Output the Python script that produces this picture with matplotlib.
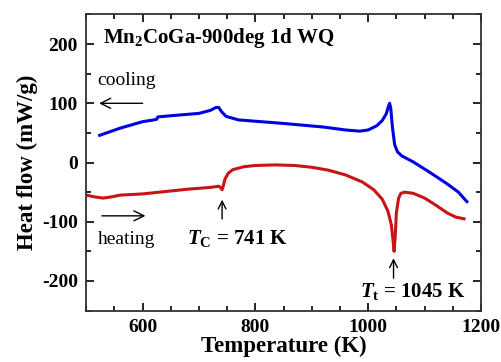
import numpy as np
import matplotlib
matplotlib.use("Agg")
import matplotlib.pyplot as plt
from matplotlib.ticker import MultipleLocator

plt.rcParams["font.family"] = ["Liberation Serif", "DejaVu Serif"]
plt.rcParams["axes.unicode_minus"] = False
plt.rcParams["mathtext.fontset"] = "custom"
plt.rcParams["mathtext.rm"] = "Liberation Serif:bold"
plt.rcParams["mathtext.it"] = "Liberation Serif:italic:bold"
plt.rcParams["mathtext.bf"] = "Liberation Serif:bold"

# cooling curve (blue)
cool_T = [524, 560, 600, 620, 625, 627, 650, 700, 720, 730, 735, 740, 748, 770, 850,
          920, 960, 985, 1000, 1015, 1025, 1032, 1036, 1038, 1040, 1043, 1047, 1052, 1060,
          1080, 1110, 1140, 1160, 1175]
cool_Q = [46, 58, 69, 72, 73, 77, 79, 83, 88, 93, 93, 86, 78, 72, 66,
          60, 55, 53, 55, 62, 71, 82, 95, 100, 92, 60, 30, 18, 11,
          1, -17, -36, -50, -66]

# heating curve (red)
heat_T = [500, 515, 530, 545, 560, 600, 640, 680, 720, 735, 738, 741, 743, 746, 752,
          760, 780, 800, 835, 870, 900, 930, 960, 990, 1010, 1025, 1035, 1041, 1044,
          1046, 1048, 1050, 1054, 1058, 1065, 1080, 1100, 1120, 1140, 1155, 1170]
heat_Q = [-55, -58, -60, -58, -55, -53, -49, -45, -42, -40, -42, -46, -40, -28, -18,
          -12, -7, -5, -4, -5, -8, -13, -21, -33, -46, -62, -82, -105, -130,
          -150, -125, -85, -60, -52, -50, -52, -60, -72, -85, -92, -95]

fig, ax = plt.subplots(figsize=(5.01, 3.62), dpi=100)
fig.subplots_adjust(left=0.172, right=0.96, top=0.96, bottom=0.142)

ax.plot(cool_T, cool_Q, color="#0000e0", lw=2.2)
ax.plot(heat_T, heat_Q, color="#c81414", lw=2.2)

ax.set_xlim(500, 1200)
ax.set_ylim(-250, 250)
ax.xaxis.set_major_locator(MultipleLocator(200))
ax.xaxis.set_minor_locator(MultipleLocator(50))
ax.yaxis.set_major_locator(MultipleLocator(100))
ax.yaxis.set_minor_locator(MultipleLocator(50))
ax.tick_params(which="both", direction="in", top=True, right=True, width=1.2)
ax.tick_params(which="major", length=6, labelsize=14, pad=6)
ax.tick_params(which="minor", length=3.5)
for lab in ax.get_xticklabels() + ax.get_yticklabels():
    lab.set_fontweight("bold")
for s in ax.spines.values():
    s.set_linewidth(1.3)
    s.set_color("#333333")

ax.set_xlabel("Temperature (K)", fontsize=16.5, fontweight="bold", labelpad=0)
ax.set_ylabel("Heat flow (mW/g)", fontsize=16.5, fontweight="bold", labelpad=3)

ax.text(530, 210, r"Mn$_\mathbf{2}$CoGa-900deg 1d WQ", fontsize=15, fontweight="bold",
        va="center")
ax.text(519, 138, "cooling", fontsize=14, va="center")
ax.annotate("", xy=(518, 100), xytext=(605, 100),
            arrowprops=dict(arrowstyle="->", lw=1, color="black", mutation_scale=18))
ax.text(520, -130, "heating", fontsize=14, va="center")
ax.annotate("", xy=(610, -90), xytext=(523, -90),
            arrowprops=dict(arrowstyle="->", lw=1, color="black", mutation_scale=18))

ax.annotate("", xy=(741, -58), xytext=(741, -100),
            arrowprops=dict(arrowstyle="->", lw=1, color="black", mutation_scale=14))
ax.text(679, -128, r"$T_\mathrm{C}$ = 741 K", fontsize=15, fontweight="bold", va="center")
ax.annotate("", xy=(1045, -157), xytext=(1045, -200),
            arrowprops=dict(arrowstyle="->", lw=1, color="black", mutation_scale=14))
ax.text(986, -217, r"$T_\mathrm{t}$ = 1045 K", fontsize=15, fontweight="bold", va="center")

fig.savefig("out.png", dpi=100)
